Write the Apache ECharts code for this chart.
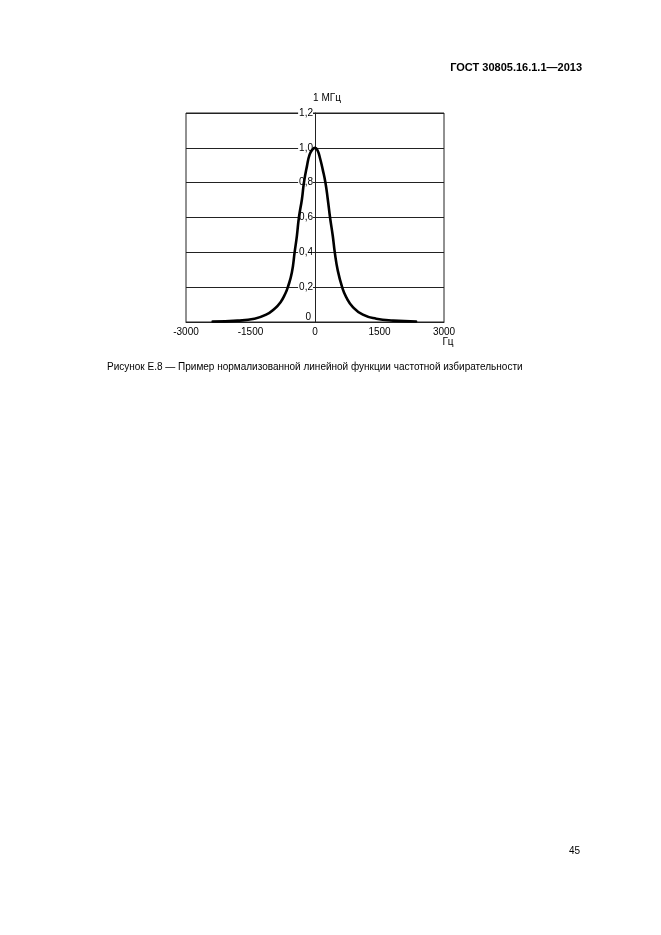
<!DOCTYPE html>
<html>
<head>
<meta charset="utf-8">
<script src="https://cdn.jsdelivr.net/npm/echarts@6/dist/echarts.min.js"></script>
<style>
html,body{margin:0;padding:0;background:#fff;}
#c{width:661px;height:935px;}
</style>
</head>
<body>
<div id="c"></div>
<script>
const freqHz = [-2380, -1800, -1410, -1136, -942, -801, -692, -631, -537, -474, -421, -374, -304, -257, -187, -124, -60, 0, 60, 117, 180, 243, 297, 350, 413, 460, 530, 631, 725, 881, 1114, 1425, 1815, 2350];
const level  = [0.003, 0.008, 0.019, 0.042, 0.076, 0.114, 0.162, 0.2, 0.286, 0.4, 0.495, 0.6, 0.705, 0.8, 0.895, 0.962, 0.99, 1.0, 0.985, 0.94, 0.875, 0.8, 0.705, 0.6, 0.495, 0.4, 0.295, 0.2, 0.143, 0.086, 0.042, 0.019, 0.008, 0.003];
const xTicks = [-3000, -1500, 0, 1500, 3000];
const yTicks = [0, 0.2, 0.4, 0.6, 0.8, 1.0, 1.2];
const headerText = 'ГОСТ 30805.16.1.1—2013';
const captionText = 'Рисунок Е.8 — Пример нормализованной линейной функции частотной избирательности';
const yUnit = '1 МГц';
const xUnit = 'Гц';
const pageNo = '45';

const FONT = '"Liberation Sans", Arial, sans-serif';
const chart = echarts.init(document.getElementById('c'), null, {renderer: 'canvas'});
const data = freqHz.map((f, i) => [f, level[i]]);
const GRID_LEFT = 186, GRID_W = 258;
const zeroOffset = -GRID_W * (0 - xTicks[0]) / (xTicks[xTicks.length - 1] - xTicks[0]);

chart.setOption({
  backgroundColor: '#fff',
  animation: false,
  textStyle: {fontFamily: FONT, color: '#000'},
  grid: {left: GRID_LEFT, top: 113, width: GRID_W, height: 209, show: true, borderColor: '#222', borderWidth: 1, backgroundColor: 'transparent'},
  xAxis: {
    type: 'value', min: xTicks[0], max: xTicks[xTicks.length - 1], interval: 1500,
    axisLine: {show: true, onZero: false, lineStyle: {color: '#222', width: 1}},
    axisTick: {show: false},
    splitLine: {show: false},
    axisLabel: {color: '#000', fontSize: 10, fontFamily: FONT, margin: 5, formatter: v => String(v)}
  },
  yAxis: {
    type: 'value', min: yTicks[0], max: yTicks[yTicks.length - 1], interval: 0.2,
    offset: zeroOffset,
    axisLine: {show: true, onZero: false, lineStyle: {color: '#222', width: 1}},
    axisTick: {show: false},
    splitLine: {show: true, lineStyle: {color: '#222', width: 1}},
    axisLabel: {
      color: '#000', fontSize: 10, fontFamily: FONT, margin: 2,
      formatter: function (v) {
        if (Math.abs(v) < 1e-9) return '{z|0}';
        return '{n|' + v.toFixed(1).replace('.', ',') + '}';
      },
      rich: {
        n: {fontSize: 10, fontFamily: FONT, color: '#000', backgroundColor: '#fff', padding: [0, 0, 0, 1]},
        z: {fontSize: 10, fontFamily: FONT, color: '#000', padding: [0, 2, 10, 0]}
      }
    }
  },
  series: [{
    type: 'line', data: data, smooth: 0.5, showSymbol: false,
    lineStyle: {color: '#000', width: 2.6, join: 'round', cap: 'round'}, z: 5
  }],
  graphic: [
    {type: 'text', x: 582, y: 68, style: {text: headerText, font: 'bold 11px ' + FONT, fill: '#000', textAlign: 'right', textVerticalAlign: 'middle'}},
    {type: 'text', x: 327, y: 98, style: {text: yUnit, font: '10px ' + FONT, fill: '#000', textAlign: 'center', textVerticalAlign: 'middle'}},
    {type: 'text', x: 448, y: 342, style: {text: xUnit, font: '10px ' + FONT, fill: '#000', textAlign: 'center', textVerticalAlign: 'middle'}},
    {type: 'text', x: 107, y: 367, style: {text: captionText, font: '10px ' + FONT, fill: '#000', textAlign: 'left', textVerticalAlign: 'middle'}},
    {type: 'text', x: 580, y: 851, style: {text: pageNo, font: '10px ' + FONT, fill: '#000', textAlign: 'right', textVerticalAlign: 'middle'}}
  ]
});
</script>
</body>
</html>
